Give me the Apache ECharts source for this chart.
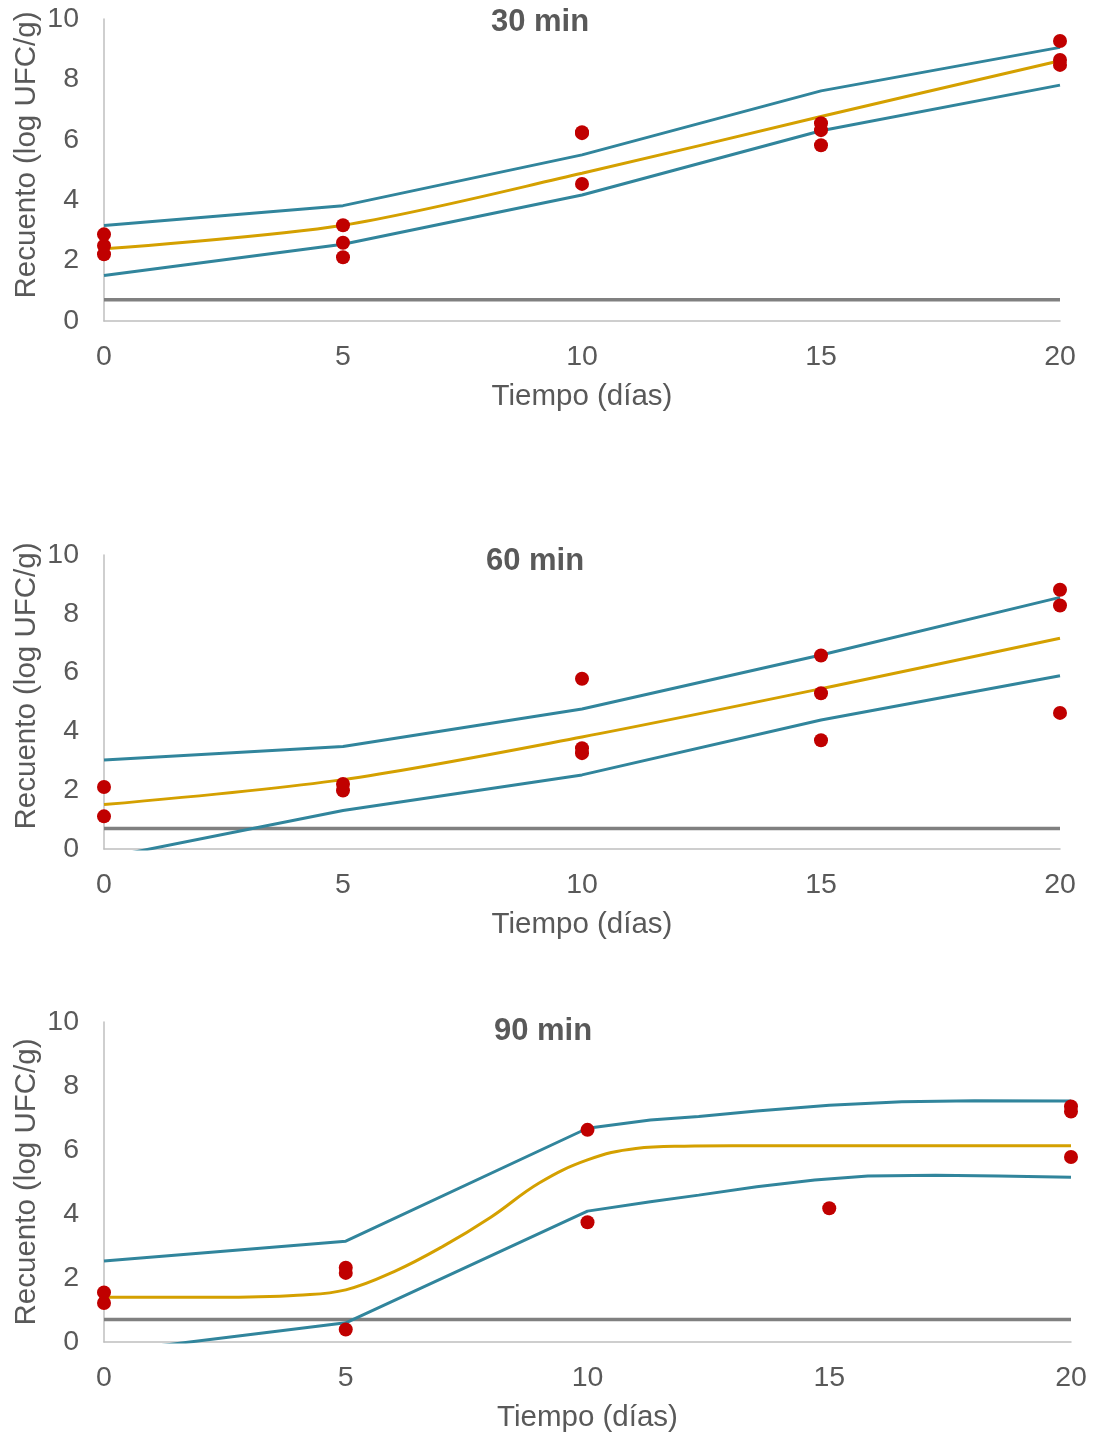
<!DOCTYPE html>
<html>
<head>
<meta charset="utf-8">
<script src="https://cdn.jsdelivr.net/npm/echarts@6/dist/echarts.min.js"></script>
<style>
html,body{margin:0;padding:0;background:#fff;}
#chart{width:1096px;height:1436px;}
</style>
</head>
<body>
<div id="chart"></div>
<script>
// ---- Data ----
const panelTitles = ['30 min', '60 min', '90 min'];
const xTitle = 'Tiempo (días)';
const yTitle = 'Recuento (log UFC/g)';
const xTicks = [0, 5, 10, 15, 20];
const yTicks = [0, 2, 4, 6, 8, 10];
const limitDays = [0, 20];
const detectionLimit = 0.7;

// 30 min
const days30 = [0, 5, 10, 15, 20];
const upper30 = [3.16, 3.82, 5.50, 7.62, 9.06];
const fit30 = [2.39, 3.17, 4.89, 6.77, 8.62];
const lower30 = [1.51, 2.54, 4.17, 6.30, 7.81];
const obsDays30 = [0, 0, 0, 5, 5, 5, 10, 10, 10, 15, 15, 15, 20, 20, 20];
const obsVals30 = [2.87, 2.49, 2.21, 3.17, 2.59, 2.11, 6.25, 6.22, 4.54, 6.55, 6.32, 5.82, 9.27, 8.64, 8.48];

// 60 min
const days60 = [0, 5, 10, 15, 20];
const upper60 = [3.03, 3.49, 4.76, 6.60, 8.56];
const fit60 = [1.51, 2.36, 3.81, 5.45, 7.17];
const lower60 = [-0.31, 1.31, 2.52, 4.39, 5.89];
const obsDays60 = [0, 0, 5, 5, 10, 10, 10, 15, 15, 15, 20, 20, 20];
const obsVals60 = [2.11, 1.11, 2.21, 1.99, 5.79, 3.43, 3.26, 6.58, 5.30, 3.70, 8.82, 8.28, 4.63];

// 90 min
const upperDays90 = [0, 5, 10, 11.3, 12.3, 13.5, 15, 16.5, 18, 20];
const upper90 = [2.53, 3.15, 6.68, 6.94, 7.05, 7.22, 7.40, 7.51, 7.54, 7.53];
const lowerDays90 = [0, 5, 10, 11.3, 12.3, 13.5, 14.7, 15.8, 17.2, 18.5, 20];
const lower90 = [-0.33, 0.60, 4.09, 4.38, 4.59, 4.85, 5.06, 5.19, 5.21, 5.19, 5.15];
const fitDays90 = [0, 1, 2, 3, 4, 5, 6, 7, 8, 9, 10, 11, 12, 13, 14, 15, 16, 17, 18, 19, 20];
const fit90 = [1.40, 1.40, 1.40, 1.41, 1.46, 1.63, 2.20, 2.98, 3.90, 4.97, 5.69, 6.05, 6.12, 6.13, 6.13, 6.13, 6.13, 6.13, 6.13, 6.13, 6.13];
const obsDays90 = [0, 0, 5, 5, 5, 10, 10, 15, 20, 20, 20];
const obsVals90 = [1.55, 1.22, 2.32, 2.16, 0.39, 6.63, 3.74, 4.18, 7.36, 7.20, 5.78];

// ---- Build ----
const zip = (xs, ys) => xs.map((x, i) => [x, ys[i]]);
const FONT = "'Liberation Sans', Arial, sans-serif";
const TXT = '#595959';
const TEAL = '#31859C';
const GOLD = '#D4A000';
const RED = '#C00000';
const GRAY = '#808080';

const grids = [
  {left: 104, right: 36, top: 19, height: 302},
  {left: 104, right: 36, top: 555, height: 294},
  {left: 104, right: 25, top: 1022, height: 320}
];

const panels = [
  {uD: days30, upper: upper30, lD: days30, lower: lower30, fD: days30, fit: fit30, oD: obsDays30, oV: obsVals30, smooth: 0.3},
  {uD: days60, upper: upper60, lD: days60, lower: lower60, fD: days60, fit: fit60, oD: obsDays60, oV: obsVals60, smooth: 0.3},
  {uD: upperDays90, upper: upper90, lD: lowerDays90, lower: lower90, fD: fitDays90, fit: fit90, oD: obsDays90, oV: obsVals90, smooth: 0.4}
];

const xAxes = [], yAxes = [], series = [];
grids.forEach((g, i) => {
  xAxes.push({
    gridIndex: i, type: 'value', min: xTicks[0], max: xTicks[xTicks.length - 1], interval: 5,
    name: xTitle, nameLocation: 'middle', nameGap: 61,
    nameTextStyle: {fontFamily: FONT, fontSize: 29.5, color: TXT},
    axisLine: {show: true, onZero: false, lineStyle: {color: '#BFBFBF', width: 1.5}},
    axisTick: {show: false}, splitLine: {show: false},
    axisLabel: {fontFamily: FONT, fontSize: 28.5, color: TXT, margin: 22}
  });
  yAxes.push({
    gridIndex: i, type: 'value', min: yTicks[0], max: yTicks[yTicks.length - 1], interval: 2,
    axisLine: {show: true, onZero: false, lineStyle: {color: '#BFBFBF', width: 1.5}},
    axisTick: {show: false}, splitLine: {show: false},
    axisLabel: {fontFamily: FONT, fontSize: 28.5, color: TXT, margin: 25}
  });
  const p = panels[i];
  const common = {xAxisIndex: i, yAxisIndex: i, type: 'line', showSymbol: false, symbol: 'none', clip: true, silent: true, animation: false};
  series.push(Object.assign({}, common, {data: zip(limitDays, [detectionLimit, detectionLimit]), lineStyle: {color: GRAY, width: 3.5}}));
  series.push(Object.assign({}, common, {data: zip(p.uD, p.upper), smooth: false, lineStyle: {color: TEAL, width: 3}}));
  series.push(Object.assign({}, common, {data: zip(p.lD, p.lower), smooth: false, lineStyle: {color: TEAL, width: 3}}));
  series.push(Object.assign({}, common, {data: zip(p.fD, p.fit), smooth: p.smooth, lineStyle: {color: GOLD, width: 3}}));
  series.push({xAxisIndex: i, yAxisIndex: i, type: 'scatter', data: zip(p.oD, p.oV), symbolSize: 14,
    itemStyle: {color: RED, opacity: 1}, animation: false, silent: true, z: 5});
});

const titlePos = [[540, 22], [535, 561], [543, 1031]];
const yNamePos = [[27, 155], [27, 686], [27, 1182]];
const graphics = [];
panelTitles.forEach((t, i) => {
  graphics.push({
    type: 'text', x: titlePos[i][0], y: titlePos[i][1], z: 10,
    style: {text: t, align: 'center', verticalAlign: 'middle', font: 'bold 31px ' + FONT, fill: TXT}
  });
  graphics.push({
    type: 'text', x: yNamePos[i][0], y: yNamePos[i][1], rotation: Math.PI / 2, z: 10,
    style: {text: yTitle, align: 'center', verticalAlign: 'middle', font: '29.5px ' + FONT, fill: TXT}
  });
});

const chart = echarts.init(document.getElementById('chart'), null, {renderer: 'canvas'});
chart.setOption({
  backgroundColor: '#ffffff',
  animation: false,
  grid: grids,
  xAxis: xAxes,
  yAxis: yAxes,
  series: series,
  graphic: graphics
});
</script>
</body>
</html>
